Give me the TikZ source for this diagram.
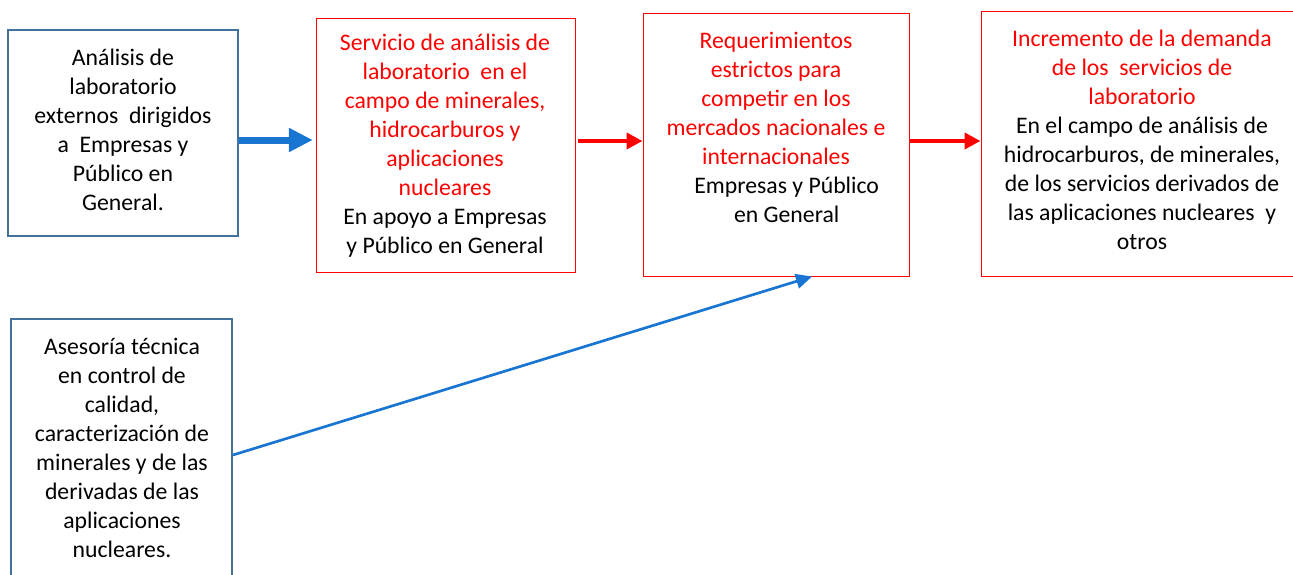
\documentclass[tikz,border=0pt]{standalone}
\usepackage{fontspec}
\setmainfont{Carlito}
\usetikzlibrary{arrows.meta,positioning}
\definecolor{bordeazul}{RGB}{65,113,156}
\definecolor{flechaazul}{RGB}{24,118,210}
\newcommand{\rojo}[1]{\textcolor{red}{#1}}

\begin{document}
\begin{tikzpicture}[x=0.75pt, y=-0.75pt, font=\fontsize{17.8pt}{21.75pt}\selectfont,
    cajaazul/.style={draw=bordeazul, line width=1.5pt, inner sep=0pt},
    cajaroja/.style={draw=red, line width=0.75pt, inner sep=0pt},
    texto/.style={align=center, inner sep=0pt},
    gruesa/.style={-{Triangle[length=18pt,width=17pt]}, flechaazul, line width=5.25pt},
    roja/.style={-{Triangle[length=12pt,width=12pt]}, red, line width=3pt},
    fina/.style={-{Triangle[length=12pt,width=11pt]}, flechaazul, line width=2pt}]
    \useasboundingbox (0,0) rectangle (1293,575);
    \clip (0,0) rectangle (1293,575);

    % cajas
    \node[cajaazul, minimum width=172.5pt, minimum height=154.5pt] (analisis) at (123,133) {};
    \node[cajaroja, minimum width=194.25pt, minimum height=190.5pt] (servicio) at (445.5,145) {};
    \node[cajaroja, minimum width=199.5pt, minimum height=197.25pt] (requisitos) at (776,144.5) {};
    \node[cajaroja, minimum width=246.75pt, minimum height=198.75pt] (demanda) at (1145.5,143.5) {};
    \node[cajaazul, minimum width=165.75pt, minimum height=210.75pt] (asesoria) at (121.5,459.5) {};

    % textos
    \node[texto] (t-analisis) at (123,129.5) {Análisis de\\ laboratorio\\ externos\ \ dirigidos\\ a\ \ Empresas y\\ Público en\\ General.};
    \node[texto] (t-servicio) at (445,145.5) {\rojo{Servicio de análisis de}\\ \rojo{laboratorio\ \ en el}\\ \rojo{campo de minerales,}\\ \rojo{hidrocarburos y}\\ \rojo{aplicaciones}\\ \rojo{nucleares}\\ En apoyo a Empresas\\ y Público en General};
    \node[texto] (t-requisitos) at (776,127) {\rojo{Requerimientos}\\ \rojo{estrictos para}\\ \rojo{competir en los}\\ \rojo{mercados nacionales e}\\ \rojo{internacionales}\\ \hspace*{0.9em}Empresas y Público\\ \hspace*{0.9em}en General};
    \node[texto] (t-demanda) at (1142,139.5) {\rojo{Incremento de la demanda}\\ \rojo{de los\ \ servicios de}\\ \rojo{laboratorio}\\ En el campo de análisis de\\ hidrocarburos, de minerales,\\ de los servicios derivados de\\ las aplicaciones nucleares\ \ y\\ otros};
    \node[texto] (t-asesoria) at (122,447.5) {Asesoría técnica\\ en control de\\ calidad,\\ caracterización de\\ minerales y de las\\ derivadas de las\\ aplicaciones\\ nucleares.};

    % flechas
    \draw[gruesa] (analisis.east |- 0,140) -- ([xshift=-2pt]servicio.west |- 0,140);
    \draw[roja] ([xshift=2pt]servicio.east |- 0,141) -- (requisitos.west |- 0,141);
    \draw[roja] (requisitos.east |- 0,141) -- (demanda.west |- 0,141);
    \draw[fina] (asesoria.east |- 0,455) -- ([xshift=27pt]requisitos.south);
\end{tikzpicture}
\end{document}
